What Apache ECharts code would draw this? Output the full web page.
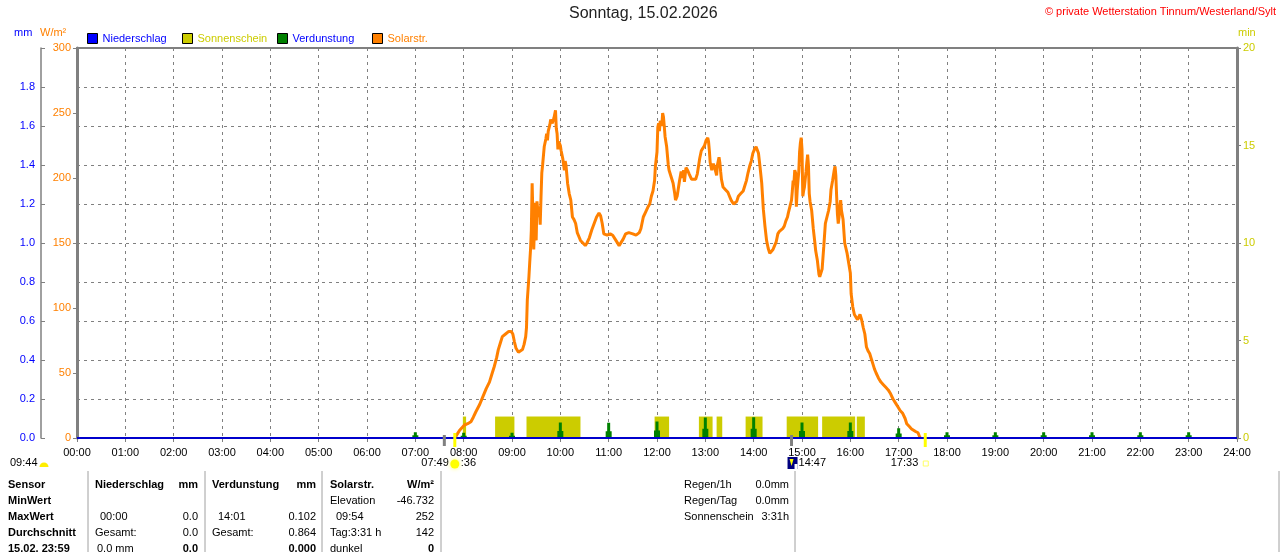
<!DOCTYPE html>
<html><head><meta charset="utf-8">
<script src="https://cdn.jsdelivr.net/npm/echarts@6/dist/echarts.min.js"></script>
<style>html,body{margin:0;padding:0;background:#fff}#c{width:1280px;height:552px}</style>
</head><body><div id="c"></div>
<script>
const xTickLabels = ['00:00','01:00','02:00','03:00','04:00','05:00','06:00','07:00','08:00','09:00','10:00','11:00','12:00','13:00','14:00','15:00','16:00','17:00','18:00','19:00','20:00','21:00','22:00','23:00','24:00'];

const solarTimes = ['07:49','07:52','07:55','08:01','08:05','08:09','08:12','08:15','08:20','08:24','08:28','08:32','08:35','08:38','08:41','08:43','08:46','08:48','08:52','08:56','08:59','09:01','09:03','09:05','09:08','09:10','09:13','09:15','09:17','09:18','09:19','09:20','09:21','09:22','09:23','09:24','09:25','09:26','09:27','09:28','09:29','09:30','09:31','09:32','09:33','09:34','09:35','09:36','09:37','09:38','09:40','09:42','09:43','09:44','09:45','09:47','09:48','09:50','09:52','09:54','09:55','09:56','09:57','09:58','10:00','10:01','10:03','10:05','10:06','10:07','10:09','10:11','10:13','10:15','10:17','10:19','10:21','10:23','10:25','10:28','10:31','10:33','10:36','10:39','10:42','10:45','10:48','10:50','10:52','10:54','10:58','11:02','11:05','11:09','11:13','11:15','11:18','11:21','11:25','11:30','11:34','11:36','11:38','11:40','11:43','11:46','11:49','11:51','11:53','11:55','11:57','11:58','12:00','12:01','12:02','12:03','12:04','12:06','12:07','12:08','12:09','12:10','12:12','12:14','12:15','12:17','12:18','12:20','12:22','12:23','12:25','12:26','12:28','12:30','12:31','12:33','12:34','12:36','12:38','12:40','12:43','12:45','12:48','12:50','12:51','12:53','12:55','12:57','12:59','13:01','13:03','13:04','13:05','13:06','13:08','13:10','13:12','13:14','13:15','13:17','13:18','13:19','13:20','13:22','13:25','13:28','13:30','13:32','13:35','13:37','13:39','13:41','13:44','13:47','13:49','13:51','13:53','13:55','13:57','13:59','14:01','14:03','14:05','14:06','14:08','14:10','14:11','14:12','14:14','14:16','14:18','14:20','14:22','14:24','14:26','14:28','14:30','14:32','14:34','14:36','14:38','14:40','14:42','14:43','14:45','14:47','14:48','14:49','14:50','14:51','14:52','14:53','14:54','14:55','14:56','14:57','14:58','14:59','15:00','15:01','15:02','15:03','15:05','15:06','15:07','15:08','15:09','15:10','15:12','15:14','15:16','15:17','15:19','15:21','15:22','15:24','15:25','15:27','15:29','15:31','15:33','15:35','15:36','15:38','15:40','15:41','15:42','15:43','15:44','15:45','15:46','15:47','15:48','15:49','15:51','15:53','15:56','15:58','16:00','16:01','16:03','16:05','16:07','16:09','16:11','16:12','16:14','16:16','16:18','16:20','16:22','16:24','16:26','16:28','16:30','16:32','16:35','16:38','16:41','16:44','16:47','16:50','16:53','16:56','16:59','17:02','17:05','17:08','17:10','17:13','17:16','17:18','17:21','17:24','17:26','17:27'];
const solarValues = [0,3,6,10,11,12.5,16,20,26,32,38,43,49,55,62,68,74,78,80,82,82,80,74,69,66,65,68,72,78,85,106,115,124,135,145,160,196,170,145,165,181,152,182,175,170,178,164,185,204,210,224,230,234,229,236,241,245,242,246,252,238,234,222,228,225,221,215,206,213,210,196,188,183,170,168,165,158,155,152,150,148,150,154,160,165,170,173,171,165,157,156,157,156,152,148,148,153,157,158,157,156,156,158,161,170,174,178,180,186,190,198,209,220,239,242,236,244,240,250,247,240,232,224,210,206,205,200,196,188,183,186,190,198,205,200,206,197,208,206,203,199,198,199,203,207,215,221,223,225,229,231,228,221,212,206,211,207,202,210,216,212,205,199,193,191,189,186,183,180,179,182,186,188,190,194,198,204,209,213,219,222,224,223,219,208,196,186,176,163,152,146,142,143,145,148,151,157,159,160,161,163,167,170,173,178,183,190,198,196,206,204,178,190,198,205,220,227,231,222,186,190,193,205,212,218,210,188,182,175,161,150,144,137,126,124,125,130,147,165,170,175,182,191,198,206,209,202,186,172,165,170,178,183,175,168,150,142,141,127,111,101,95,93,91,92,95,91,85,80,70,67,65,61,57,53,50,46,43,41,39,37,34,30,27,24,21,19,15,11,9,7,6,5,4,1,0];

const sunStart = ['07:59','08:39','09:18','11:57','12:52','13:14','13:50','14:41','15:25','16:08'];
const sunEnd   = ['08:03','09:03','10:25','12:15','13:09','13:21','14:11','15:20','16:06','16:18'];
const sunValue = [1.1,1.1,1.1,1.1,1.1,1.1,1.1,1.1,1.1,1.1];

const evapTimes  = ['07:00','08:00','09:00','10:00','11:00','12:00','13:00','14:00','15:00','16:00','17:00','18:00','19:00','20:00','21:00','22:00','23:00'];
const evapValues = [0.03,0.027,0.027,0.08,0.078,0.085,0.105,0.106,0.08,0.08,0.05,0.03,0.03,0.03,0.03,0.03,0.03];

const rainTimes  = ['00:00','06:00','12:00','18:00','24:00'];
const rainValues = [0,0,0,0,0];

const sunriseTime = '07:49', sunsetTime = '17:33';
const grayMarkTimes = ['07:36','14:47'];

const FONT = '"Liberation Sans", Arial, sans-serif';
const toMin = s => { const p = s.split(':').map(Number); return p[0]*60 + p[1]; };

const chart = echarts.init(document.getElementById('c'));

function legendFor(name, left, color){
  return {data:[name], left:left, top:33, padding:0, itemWidth:10, itemHeight:10, icon:'rect',
    itemStyle:{borderColor:'#000', borderWidth:1},
    textStyle:{color:color, fontSize:11, fontFamily:FONT}, selectedMode:false};
}

const option = {
  animation:false,
  textStyle:{fontFamily:FONT},
  title:[
    {text:'Sonntag, 15.02.2026', left:569, top:6, padding:0, textStyle:{fontSize:16, fontWeight:'normal', color:'#222', fontFamily:FONT}},
    {text:'\u00a9 private Wetterstation Tinnum/Westerland/Sylt', right:4, top:6, padding:0, textStyle:{fontSize:11, fontWeight:'normal', color:'#ff0000', fontFamily:FONT}}
  ],
  legend:[
    legendFor('Niederschlag', 87, '#0000ff'),
    legendFor('Sonnenschein', 182, '#cccc00'),
    legendFor('Verdunstung', 277, '#0000ff'),
    legendFor('Solarstr.', 372, '#ff8000')
  ],
  grid:{left:77, right:43, top:48, bottom:114, show:true, borderColor:'#808080', borderWidth:2},
  xAxis:{type:'value', min:0, max:1440, interval:60,
    axisLine:{show:true, onZero:false, lineStyle:{color:'#808080', width:1}},
    axisTick:{show:true, length:4, lineStyle:{color:'#808080'}},
    axisLabel:{color:'#000', fontSize:11, margin:9, fontFamily:FONT, formatter:v => xTickLabels[Math.round(v/60)]},
    splitLine:{show:true, lineStyle:{color:'#808080', type:[3,4], width:1}}},
  yAxis:[
    {type:'value', position:'left', min:0, max:300, interval:50,
      axisLine:{show:true, lineStyle:{color:'#808080', width:3}},
      axisTick:{show:true, length:4, lineStyle:{color:'#808080'}},
      axisLabel:{color:'#ff8000', fontSize:11, margin:6, fontFamily:FONT},
      splitLine:{show:false}},
    {type:'value', position:'left', offset:36, min:0, max:2, interval:0.2,
      axisLine:{show:true, lineStyle:{color:'#808080', width:1.5}},
      axisTick:{show:true, inside:true, length:4, lineStyle:{color:'#808080'}},
      axisLabel:{color:'#0000ff', fontSize:11, margin:6, fontFamily:FONT, formatter:v => v > 1.95 ? '' : v.toFixed(1)},
      splitLine:{show:true, lineStyle:{color:'#808080', type:[3,4], width:1}}},
    {type:'value', position:'right', min:0, max:20, interval:5,
      axisLine:{show:true, lineStyle:{color:'#808080', width:3}},
      axisTick:{show:true, length:4, lineStyle:{color:'#808080'}},
      axisLabel:{color:'#cccc00', fontSize:11, margin:6, fontFamily:FONT},
      splitLine:{show:false}}
  ],
  series:[
    {name:'Niederschlag', type:'line', yAxisIndex:1, color:'#0000ff', symbol:'none', z:10,
      lineStyle:{width:2, color:'#0000cc'},
      data: rainTimes.map((t,i) => [toMin(t), rainValues[i]])},
    {name:'Sonnenschein', type:'custom', yAxisIndex:2, color:'#cccc00', z:1,
      encode:{x:[0,1], y:2},
      data: sunStart.map((t,i) => [toMin(t), toMin(sunEnd[i]), sunValue[i]]),
      renderItem:(params, api) => {
        const a = api.coord([api.value(0), api.value(2)]);
        const b = api.coord([api.value(1), 0]);
        return {type:'rect', shape:{x:a[0], y:a[1], width:b[0]-a[0], height:b[1]-a[1]}, style:{fill:'#cccc00'}};
      }},
    {name:'Verdunstung', type:'custom', yAxisIndex:1, color:'#008000', z:2,
      encode:{x:0, y:1},
      data: evapTimes.map((t,i) => [toMin(t), evapValues[i]]),
      renderItem:(params, api) => {
        const top = api.coord([api.value(0), api.value(1)]);
        const base = api.coord([api.value(0), 0]);
        const x = base[0], y0 = base[1], yt = top[1];
        const ym = y0 - (y0 - yt) * 0.45;
        return {type:'polygon', shape:{points:[[x-3,y0],[x-3,ym],[x-1.5,ym],[x-1.5,yt],[x+1.5,yt],[x+1.5,ym],[x+3,ym],[x+3,y0]]}, style:{fill:'#008000'}};
      }},
    {name:'Solarstr.', type:'line', yAxisIndex:0, color:'#ff8000', symbol:'none', z:5,
      lineStyle:{width:3, color:'#ff8000'},
      data: solarTimes.map((t,i) => [toMin(t), solarValues[i]])}
  ]
};
chart.setOption(option);

const px = t => chart.convertToPixel({xAxisIndex:0}, toMin(t));
const T = (text, x, y, opts) => ({type:'text', x:x, y:y, style:Object.assign({text:text, fill:'#000', font:'11px ' + FONT, textVerticalAlign:'middle', verticalAlign:'middle', textAlign:'left', align:'left'}, (opts||{}))});
const B = (text, x, y, align) => T(text, x, y, {font:'bold 11px ' + FONT, textAlign:align||'left', align:align||'left'});
const R = (text, x, y) => T(text, x, y, {textAlign:'right', align:'right'});

const g = [];
// unit labels
g.push(T('mm', 14, 33, {fill:'#0000ff'}));
g.push(T('W/m\u00b2', 40, 33, {fill:'#ff8000'}));
g.push(T('min', 1238, 33, {fill:'#cccc00'}));
// marks at the axis
grayMarkTimes.forEach(t => { const x = px(t); g.push({type:'rect', shape:{x:x-1.5, y:435, width:3, height:11}, style:{fill:'#808080'}, z:20}); });
[sunriseTime, sunsetTime].forEach(t => { const x = px(t); g.push({type:'rect', shape:{x:x-1.5, y:433, width:3, height:14}, style:{fill:'#ffff00'}, z:20}); });
// annotation row
g.push(T('09:44', 10, 463));
g.push({type:'sector', shape:{cx:44, cy:467, r0:0, r:4.5, startAngle:Math.PI, endAngle:2*Math.PI}, style:{fill:'#ffee00'}});
const sr = px(sunriseTime), ss = px(sunsetTime), gm = px(grayMarkTimes[1]);
g.push(R(sunriseTime, sr - 6, 463));
g.push(T(':36', sr + 6, 463));
g.push({type:'circle', shape:{cx:sr, cy:464, r:4.5}, style:{fill:'#ffff00', shadowBlur:4, shadowColor:'#ffff66'}});
g.push({type:'rect', shape:{x:gm - 4, y:457, width:10, height:12}, style:{fill:'#000080'}});
g.push({type:'polygon', shape:{points:[[gm-2,459],[gm+2,459],[gm,466]]}, style:{fill:'#ffff00'}});
g.push({type:'rect', shape:{x:gm + 3, y:464, width:3, height:5}, style:{fill:'#ffffff'}});
g.push(T('14:47', gm + 7, 463));
g.push(R(sunsetTime, ss - 7, 463));
g.push({type:'rect', shape:{x:ss - 2, y:461, width:5, height:5}, style:{fill:'none', stroke:'#ffff66', lineWidth:1}});
// table separators
[88, 205, 322, 441, 795, 1279].forEach(x => g.push({type:'line', shape:{x1:x, y1:471, x2:x, y2:552}, style:{stroke:'#a0a0a0', lineWidth:1}}));
// table text
const rows = [485, 501, 517, 533, 549];
['Sensor','MinWert','MaxWert','Durchschnitt','15.02. 23:59'].forEach((s,i) => g.push(B(s, 8, rows[i])));
g.push(B('Niederschlag', 95, rows[0])); g.push(B('mm', 198, rows[0], 'right'));
g.push(T('00:00', 100, rows[2])); g.push(R('0.0', 198, rows[2]));
g.push(T('Gesamt:', 95, rows[3])); g.push(R('0.0', 198, rows[3]));
g.push(T('0.0 mm', 97, rows[4])); g.push(B('0.0', 198, rows[4], 'right'));
g.push(B('Verdunstung', 212, rows[0])); g.push(B('mm', 316, rows[0], 'right'));
g.push(T('14:01', 218, rows[2])); g.push(R('0.102', 316, rows[2]));
g.push(T('Gesamt:', 212, rows[3])); g.push(R('0.864', 316, rows[3]));
g.push(B('0.000', 316, rows[4], 'right'));
g.push(B('Solarstr.', 330, rows[0])); g.push(B('W/m\u00b2', 434, rows[0], 'right'));
g.push(T('Elevation', 330, rows[1])); g.push(R('-46.732', 434, rows[1]));
g.push(T('09:54', 336, rows[2])); g.push(R('252', 434, rows[2]));
g.push(T('Tag:3:31 h', 330, rows[3])); g.push(R('142', 434, rows[3]));
g.push(T('dunkel', 330, rows[4])); g.push(B('0', 434, rows[4], 'right'));
g.push(T('Regen/1h', 684, rows[0])); g.push(R('0.0mm', 789, rows[0]));
g.push(T('Regen/Tag', 684, rows[1])); g.push(R('0.0mm', 789, rows[1]));
g.push(T('Sonnenschein', 684, rows[2])); g.push(R('3:31h', 789, rows[2]));

chart.setOption({graphic: g});
</script>
</body></html>
